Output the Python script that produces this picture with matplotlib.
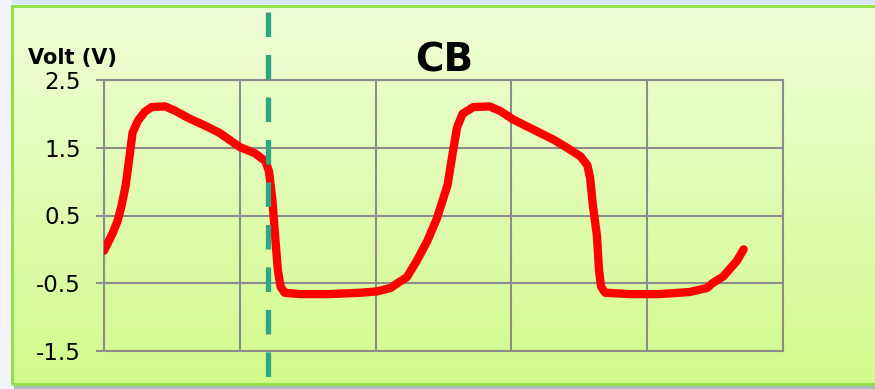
import numpy as np
import matplotlib
matplotlib.use("Agg")
import matplotlib.pyplot as plt
import matplotlib.transforms as mtransforms
from matplotlib.patches import Rectangle
from matplotlib.colors import LinearSegmentedColormap

# Time axis in grid divisions, voltage in volts
time_div = [0.0, 0.03, 0.066, 0.10, 0.13, 0.16, 0.19, 0.21, 0.25, 0.30, 0.35,
            0.45, 0.52, 0.63, 0.74, 0.85, 1.0, 1.11, 1.19, 1.215, 1.24, 1.26,
            1.28, 1.30, 1.33, 1.44, 1.66, 1.89, 2.01, 2.11, 2.16, 2.23, 2.30,
            2.38, 2.45, 2.53, 2.57, 2.60, 2.64, 2.72, 2.84, 2.92, 3.01, 3.16,
            3.31, 3.41, 3.51, 3.56, 3.58, 3.60, 3.63, 3.645, 3.66, 3.69, 3.87,
            4.09, 4.31, 4.44, 4.48, 4.56, 4.66, 4.71]
volt = [-0.02, 0.10, 0.25, 0.42, 0.65, 0.95, 1.40, 1.72, 1.90, 2.03, 2.10,
        2.11, 2.05, 1.93, 1.83, 1.72, 1.51, 1.42, 1.30, 1.15, 0.73, 0.20,
        -0.30, -0.55, -0.64, -0.66, -0.66, -0.64, -0.62, -0.57, -0.50, -0.41, -0.18,
        0.12, 0.45, 0.95, 1.45, 1.80, 2.00, 2.10, 2.11, 2.04, 1.92, 1.77,
        1.62, 1.50, 1.37, 1.24, 1.05, 0.65, 0.20, -0.30, -0.55, -0.64, -0.66,
        -0.66, -0.63, -0.57, -0.50, -0.40, -0.17, 0.0]
y_ticks = [-1.5, -0.5, 0.5, 1.5, 2.5]
y_tick_labels = ["-1.5", "-0.5", "0.5", "1.5", "2.5"]
marker_time = 1.21

W, H = 875, 389
fig = plt.figure(figsize=(W / 100, H / 100), dpi=100)
fig.patch.set_facecolor("#f1f4fa")

# Gradient panel behind the chart
bg = fig.add_axes([12 / W, (H - 384) / H, (W - 12) / W, (384 - 6) / H], zorder=0)
cmap = LinearSegmentedColormap.from_list("panel", ["#d2fb8c", "#effdd8"])
grad = np.linspace(0, 1, 256).reshape(-1, 1)
bg.imshow(grad, aspect="auto", cmap=cmap, origin="lower", extent=[0, 1, 0, 1])
bg.set_xlim(0, 1)
bg.set_ylim(0, 1)
bg.axis("off")
bg.add_patch(Rectangle((0, 0), 1.02, 1, transform=bg.transAxes, fill=False,
                       edgecolor="#94e04a", linewidth=2.2, clip_on=False))
# Light blue strip across the top right and grey-blue shadow along the bottom
fig.patches.append(Rectangle((12 / W, (H - 4) / H), 1, 4 / H, transform=fig.transFigure,
                             facecolor="#d6e8fa", edgecolor="none", zorder=0.5))
fig.patches.append(Rectangle((14 / W, 0), 1, 3.5 / H, transform=fig.transFigure,
                             facecolor="#a9b8c6", edgecolor="none", zorder=0.5))

ax = fig.add_axes([104 / W, (H - 351) / H, (783 - 104) / W, (351 - 80) / H], zorder=2)
ax.set_facecolor("none")
ax.set_xlim(0, 5)
ax.set_ylim(-1.5, 2.5)
ax.set_xticks(np.arange(0, 6, 1))
ax.set_xticklabels([])
ax.set_yticks(y_ticks)
ax.set_yticklabels(y_tick_labels, fontsize=16.5, color="#000000")
ax.tick_params(axis="y", length=5.8, width=1.4, color="#8c8c8c", pad=11)
ax.tick_params(axis="x", length=0)
ax.grid(True, color="#8c8c8c", linewidth=1.5)
for s in ax.spines.values():
    s.set_color("#8c8c8c")
    s.set_linewidth(1.5)

ax.plot(time_div, volt, color="#ff0000", linewidth=6.0, solid_capstyle="round",
        solid_joinstyle="round", zorder=3)

# Dashed marker line spanning the whole panel height
trans = mtransforms.blended_transform_factory(ax.transData, fig.transFigure)
ax.plot([marker_time, marker_time], [(H - 12) / H, (H - 381) / H], transform=trans,
        color="#2ea684", linewidth=3.8, dashes=(4.65, 3.4), clip_on=False, zorder=4,
        solid_capstyle="butt", dash_capstyle="butt")

fig.text(444 / W, (H - 72) / H, "CB", ha="center", va="baseline",
         fontsize=28, fontweight="bold", color="#000000")
fig.text(28 / W, (H - 64) / H, "Volt (V)", ha="left", va="baseline",
         fontsize=15, fontweight="bold", color="#000000")

fig.savefig("out.png", dpi=100, facecolor=fig.get_facecolor())
